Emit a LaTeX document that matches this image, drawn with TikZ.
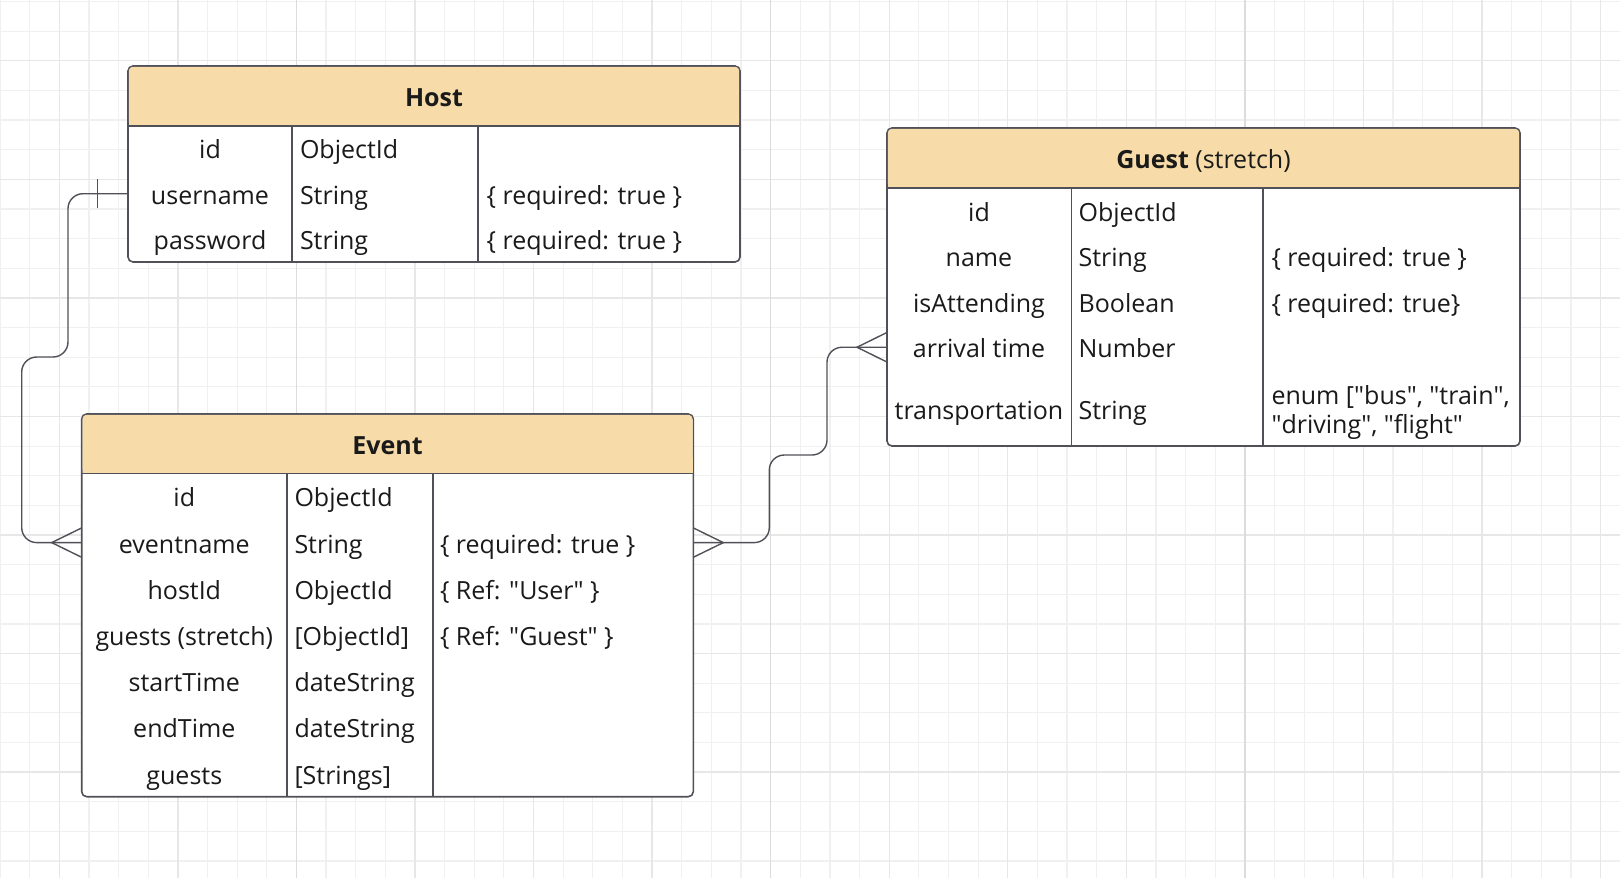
\documentclass[tikz,border=0pt]{standalone}
\usepackage{fontspec}
\setmainfont{Open Sans}
\usetikzlibrary{calc}
\definecolor{hdr}{HTML}{F7DCA9}
\definecolor{bord}{HTML}{505058}
\definecolor{txtc}{HTML}{1A1A1A}
\definecolor{gminor}{HTML}{F0F0F0}
\definecolor{gmed}{HTML}{E7E7E7}
\definecolor{gmajor}{HTML}{DCDCDC}
\newcommand\dq{\textquotedbl}
\begin{document}
\begin{tikzpicture}[x=1pt,y=-1pt,
  tablebox/.style={draw=bord, fill=white, line width=1.6pt, rounded corners=5pt, inner sep=0pt, outer sep=0pt, anchor=north west},
  hdrfill/.style={fill=hdr, rounded corners=4.2pt},
  rule/.style={draw=bord, line width=1.4pt},
  cell/.style={inner sep=0pt, outer sep=0pt, text height=22pt, text depth=1pt, font=\fontsize{25}{29}\selectfont, text=txtc},
  lcell/.style={cell, anchor=west},
  multicell/.style={inner sep=0pt, outer sep=0pt, font=\fontsize{25}{29}\selectfont, text=txtc, align=left, anchor=north west},
  conn/.style={draw=bord, line width=1.4pt, rounded corners=15pt},
  foot/.style={draw=bord, line width=1.4pt},
  gminorl/.style={draw=gminor, line width=1.2pt},
  gmedl/.style={draw=gmed, line width=1.4pt},
  gmajorl/.style={draw=gmajor, line width=1.6pt}]
\useasboundingbox (0,0) rectangle (1620,878);
\fill[white] (0,0) rectangle (1620,878);
% grid
\foreach \i in {0,...,54} \draw[gminorl] (\i*29.64,0) -- (\i*29.64,878);
\foreach \j in {0,...,29} \draw[gminorl] (0,1.5+\j*29.64) -- (1620,1.5+\j*29.64);
\foreach \i in {2,6,...,54} \draw[gmedl] (\i*29.64,0) -- (\i*29.64,878);
\foreach \j in {2,6,...,26} \draw[gmedl] (0,1.5+\j*29.64) -- (1620,1.5+\j*29.64);
\foreach \i in {10,26,42} \draw[gmajorl] (\i*29.64,0) -- (\i*29.64,878);

% ---------- Host ----------
\node[tablebox, minimum width=612pt, minimum height=196pt] (host) at (128,66) {};
\fill[hdrfill] (128.8,66.8) rectangle (739.2,126);
\fill[hdr] (128.8,110) rectangle (739.2,126);
\draw[rule] (128,126) -- (740,126);
\draw[rule] (292,126) -- (292,262);
\draw[rule] (478,126) -- (478,262);
\node[cell] (hh) at (434,96) {\textbf{Host}};
\node[cell] (hid) at (210,148.4) {id};
\node[lcell] (hidt) at (300,148.4) {ObjectId};
\node[cell] (hu) at (210,193.7) {username};
\node[lcell] (hut) at (300,193.7) {String};
\node[lcell] (hur) at (486.6,193.7) {\{ required: true \}};
\node[cell] (hp) at (210,239) {password};
\node[lcell] (hpt) at (300,239) {String};
\node[lcell] (hpr) at (486.6,239) {\{ required: true \}};

% ---------- Guest ----------
\node[tablebox, minimum width=633pt, minimum height=318pt] (guest) at (887,128) {};
\fill[hdrfill] (887.8,128.8) rectangle (1519.2,188);
\fill[hdr] (887.8,172) rectangle (1519.2,188);
\draw[rule] (887,188) -- (1520,188);
\draw[rule] (1071.5,188) -- (1071.5,446);
\draw[rule] (1263,188) -- (1263,446);
\node[cell] (gh) at (1203.5,158) {\textbf{Guest} (stretch)};
\node[cell] (gid) at (979,210.75) {id};
\node[lcell] (gidt) at (1078.6,210.75) {ObjectId};
\node[cell] (gn) at (979,256.25) {name};
\node[lcell] (gnt) at (1078.6,256.25) {String};
\node[lcell] (gnr) at (1271.5,256.25) {\{ required: true \}};
\node[cell] (gat) at (979,301.75) {isAttending};
\node[lcell] (gatt) at (1078.6,301.75) {Boolean};
\node[lcell] (gatr) at (1271.5,301.75) {\{ required: true\}};
\node[cell] (ga) at (979,347.25) {arrival time};
\node[lcell] (gat2) at (1078.6,347.25) {Number};
\node[cell] (gtr) at (979,408.5) {transportation};
\node[lcell] (gtrt) at (1078.6,408.5) {String};
\node[multicell] (gtrr) at (1271.5,386) {enum [\dq bus\dq, \dq train\dq,\\\dq driving\dq, \dq flight\dq};

% ---------- Event ----------
\node[tablebox, minimum width=611.6pt, minimum height=382.7pt] (event) at (81.7,414) {};
\fill[hdrfill] (82.5,414.8) rectangle (692.5,473.3);
\fill[hdr] (82.5,458) rectangle (692.5,473.3);
\draw[rule] (81.7,473.3) -- (693.3,473.3);
\draw[rule] (287,473.3) -- (287,796.7);
\draw[rule] (433,473.3) -- (433,796.7);
\node[cell] (eh) at (387.5,443.7) {\textbf{Event}};
\node[cell] (eid) at (184.3,496.4) {id};
\node[lcell] (eidt) at (294.5,496.4) {ObjectId};
\node[cell] (en) at (184.3,542.6) {eventname};
\node[lcell] (ent) at (294.5,542.6) {String};
\node[lcell] (enr) at (440,542.6) {\{ required: true \}};
\node[cell] (eho) at (184.3,588.8) {hostId};
\node[lcell] (ehot) at (294.5,588.8) {ObjectId};
\node[lcell] (ehor) at (440,588.8) {\{ Ref: \dq User\dq\ \}};
\node[cell] (egs) at (184.3,635) {guests (stretch)};
\node[lcell] (egst) at (294.5,635) {[ObjectId]};
\node[lcell] (egsr) at (440,635) {\{ Ref: \dq Guest\dq\ \}};
\node[cell] (est) at (184.3,681.2) {startTime};
\node[lcell] (estt) at (294.5,681.2) {dateString};
\node[cell] (eet) at (184.3,727.4) {endTime};
\node[lcell] (eett) at (294.5,727.4) {dateString};
\node[cell] (eg) at (184.3,773.6) {guests};
\node[lcell] (egt) at (294.5,773.6) {[Strings]};

% ---------- Connectors ----------
\draw[conn] (host.west |- hu) -| (68,357) -- (21.7,357) |- (event.west |- en);
\draw[foot] ($(host.west |- hu)+(-30.7,-14.5)$) -- ($(host.west |- hu)+(-30.7,14.5)$);
\draw[foot] ($(event.west |- en)+(0,-14.7)$) -- ($(event.west |- en)+(-30,0)$) -- ($(event.west |- en)+(0,14.7)$);

\draw[conn] (event.east |- en) -| (769.3,455) -| ($(guest.west |- ga)+(-60,0)$) -- (guest.west |- ga);
\draw[foot] ($(event.east |- en)+(0,-14.7)$) -- ($(event.east |- en)+(30,0)$) -- ($(event.east |- en)+(0,14.7)$);
\draw[foot] ($(guest.west |- ga)+(0,-14.8)$) -- ($(guest.west |- ga)+(-30,0)$) -- ($(guest.west |- ga)+(0,14.8)$);
\end{tikzpicture}
\end{document}
